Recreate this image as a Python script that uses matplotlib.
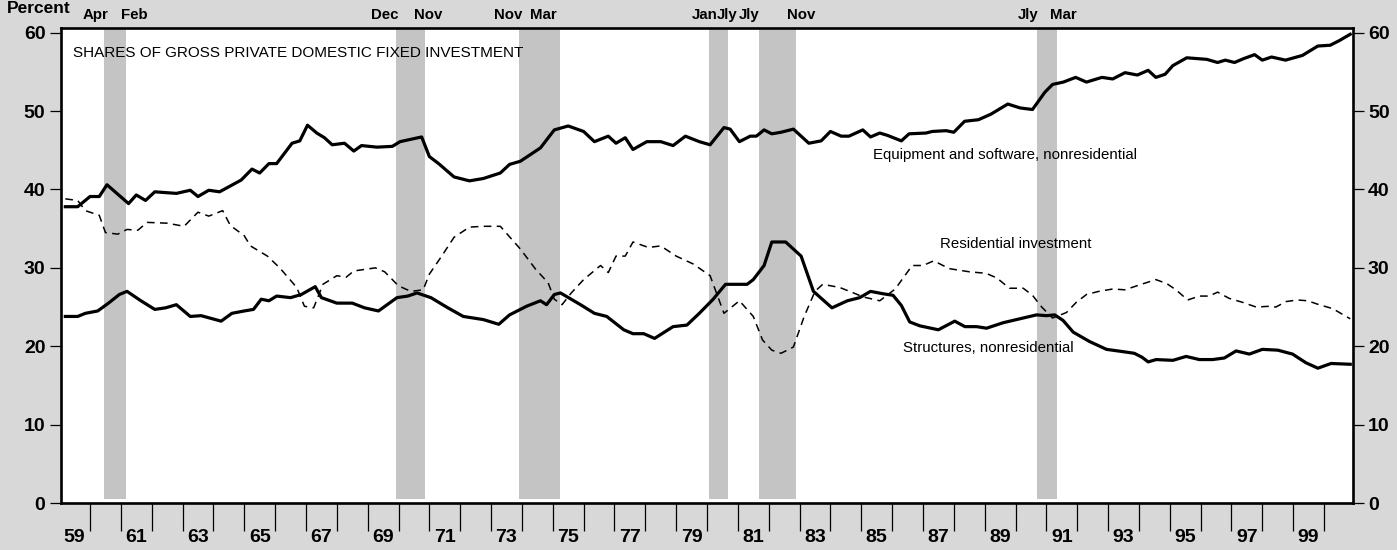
import matplotlib
matplotlib.use("Agg")
import matplotlib.pyplot as plt
import matplotlib.transforms as mtransforms
from matplotlib import font_manager

# pick a narrow face if the box has one (original looks like Helvetica Narrow)
installed = {f.name for f in font_manager.fontManager.ttflist}
narrow = "Liberation Sans Narrow" in installed
body_family = ["Liberation Sans Narrow", "Liberation Sans", "DejaVu Sans"] if narrow else ["Liberation Sans", "DejaVu Sans"]
body_size = 13 if narrow else 10.8
plt.rcParams["font.family"] = ["Liberation Sans", "DejaVu Sans"]

# Equipment and software, nonresidential (percent of fixed investment)
eq_years = [1959.2, 1959.6, 1960.0, 1960.3, 1960.55, 1961.25, 1961.5, 1961.8, 1962.1, 1962.8,
            1963.25, 1963.5, 1963.85, 1964.2, 1964.9, 1965.25, 1965.5, 1965.8, 1966.05, 1966.55,
            1966.8, 1967.05, 1967.35, 1967.6, 1967.85, 1968.25, 1968.55, 1968.8, 1969.3, 1969.8,
            1970.05, 1970.75, 1971.0, 1971.3, 1971.8, 1972.3, 1972.75, 1973.3, 1973.6, 1973.95,
            1974.6, 1975.05, 1975.5, 1976.0, 1976.35, 1976.8, 1977.05, 1977.35, 1977.6, 1978.05,
            1978.5, 1978.9, 1979.3, 1979.75, 1980.1, 1980.55, 1980.75, 1981.05, 1981.4, 1981.6,
            1981.85, 1982.1, 1982.4, 1982.8, 1983.3, 1983.7, 1984.0, 1984.35, 1984.6, 1985.05,
            1985.3, 1985.6, 1985.85, 1986.3, 1986.55, 1987.1, 1987.3, 1987.75, 1988.0, 1988.35,
            1988.8, 1989.2, 1989.75, 1990.15, 1990.55, 1990.95, 1991.2, 1991.55, 1991.95, 1992.3,
            1992.8, 1993.15, 1993.55, 1993.95, 1994.3, 1994.55, 1994.85, 1995.1, 1995.55, 1996.2,
            1996.55, 1996.8, 1997.1, 1997.4, 1997.75, 1998.0, 1998.3, 1998.75, 1999.3, 1999.8,
            2000.2, 2000.5, 2000.85]
eq_share = [37.8, 37.8, 39.1, 39.1, 40.6, 38.2, 39.3, 38.6, 39.7, 39.5,
            39.9, 39.1, 39.9, 39.7, 41.2, 42.6, 42.1, 43.3, 43.3, 45.9,
            46.2, 48.2, 47.2, 46.6, 45.7, 45.9, 44.9, 45.6, 45.4, 45.5,
            46.1, 46.7, 44.2, 43.3, 41.6, 41.1, 41.4, 42.1, 43.2, 43.6,
            45.3, 47.6, 48.1, 47.4, 46.1, 46.8, 45.9, 46.6, 45.1, 46.1,
            46.1, 45.6, 46.8, 46.1, 45.7, 47.9, 47.7, 46.1, 46.8, 46.8,
            47.6, 47.1, 47.3, 47.7, 45.9, 46.2, 47.4, 46.8, 46.8, 47.6,
            46.7, 47.2, 46.9, 46.2, 47.1, 47.2, 47.4, 47.5, 47.3, 48.7,
            48.9, 49.6, 50.9, 50.4, 50.2, 52.4, 53.4, 53.7, 54.3, 53.7,
            54.3, 54.1, 54.9, 54.6, 55.2, 54.3, 54.7, 55.8, 56.8, 56.6,
            56.2, 56.5, 56.2, 56.7, 57.2, 56.5, 56.9, 56.5, 57.1, 58.3,
            58.4, 59.0, 59.8]

# Residential investment
res_years = [1959.2, 1959.6, 1959.85, 1960.3, 1960.5, 1960.9, 1961.2, 1961.55, 1961.85, 1962.5,
             1963.05, 1963.5, 1963.85, 1964.3, 1964.55, 1965.0, 1965.2, 1965.75, 1966.15, 1966.7,
             1966.95, 1967.25, 1967.55, 1968.0, 1968.3, 1968.55, 1969.25, 1969.55, 1970.0, 1970.4,
             1970.8, 1971.0, 1971.4, 1971.8, 1972.3, 1972.75, 1973.3, 1973.95, 1974.45, 1974.85,
             1975.05, 1975.3, 1975.6, 1976.0, 1976.55, 1976.8, 1977.05, 1977.35, 1977.6, 1978.1,
             1978.5, 1979.0, 1979.55, 1980.1, 1980.55, 1981.05, 1981.5, 1981.8, 1982.1, 1982.4,
             1982.8, 1983.15, 1983.5, 1983.75, 1984.3, 1984.75, 1985.05, 1985.6, 1986.1, 1986.65,
             1987.0, 1987.35, 1987.85, 1988.5, 1989.05, 1989.4, 1989.8, 1990.25, 1990.55, 1990.85,
             1991.2, 1991.65, 1991.97, 1992.3, 1992.7, 1993.15, 1993.55, 1994.0, 1994.55, 1994.9,
             1995.2, 1995.58, 1995.96, 1996.28, 1996.55, 1996.93, 1997.36, 1997.8, 1998.23, 1998.44,
             1998.77, 1999.14, 1999.47, 1999.84, 2000.28, 2000.85]
res_share = [38.8, 38.6, 37.3, 36.7, 34.5, 34.3, 34.9, 34.8, 35.8, 35.7,
             35.3, 37.1, 36.6, 37.3, 35.4, 34.1, 32.8, 31.5, 30.0, 27.5,
             25.1, 24.9, 27.9, 29.0, 28.8, 29.6, 30.0, 29.5, 27.7, 27.0,
             27.2, 29.2, 31.5, 33.9, 35.2, 35.3, 35.3, 32.4, 29.8, 28.1,
             26.0, 25.3, 26.8, 28.5, 30.3, 29.4, 31.5, 31.5, 33.3, 32.6,
             32.8, 31.5, 30.5, 29.0, 24.2, 25.8, 23.8, 20.8, 19.5, 19.1,
             19.9, 23.8, 27.0, 27.9, 27.5, 26.8, 26.3, 25.8, 27.3, 30.3,
             30.3, 30.9, 29.9, 29.5, 29.3, 28.7, 27.4, 27.4, 26.5, 25.0,
             23.6, 24.3, 25.6, 26.6, 27.0, 27.3, 27.2, 27.8, 28.5, 28.0,
             27.2, 25.9, 26.4, 26.4, 26.9, 26.1, 25.6, 25.0, 25.1, 25.0,
             25.7, 25.9, 25.8, 25.3, 24.8, 23.5]

# Structures, nonresidential
st_years = [1959.2, 1959.6, 1959.85, 1960.25, 1960.6, 1960.95, 1961.2, 1961.65, 1962.1, 1962.45,
            1962.8, 1963.25, 1963.6, 1964.25, 1964.6, 1965.0, 1965.3, 1965.55, 1965.8, 1966.05,
            1966.5, 1966.85, 1967.3, 1967.5, 1968.0, 1968.5, 1968.9, 1969.35, 1969.95, 1970.3,
            1970.6, 1971.05, 1971.6, 1972.1, 1972.75, 1973.25, 1973.6, 1974.15, 1974.6, 1974.8,
            1975.05, 1975.25, 1975.9, 1976.35, 1976.75, 1977.3, 1977.6, 1977.95, 1978.3, 1978.9,
            1979.35, 1979.75, 1980.2, 1980.6, 1981.3, 1981.5, 1981.85, 1982.1, 1982.55, 1983.05,
            1983.45, 1984.05, 1984.55, 1984.95, 1985.3, 1985.7, 1986.03, 1986.3, 1986.57, 1986.9,
            1987.5, 1988.03, 1988.36, 1988.74, 1989.06, 1989.6, 1990.14, 1990.68, 1991.0, 1991.27,
            1991.54, 1991.87, 1992.4, 1992.95, 1993.5, 1993.85, 1994.1, 1994.3, 1994.56, 1995.1,
            1995.53, 1995.96, 1996.39, 1996.77, 1997.15, 1997.58, 1998.0, 1998.5, 1998.98, 1999.41,
            1999.8, 2000.23, 2000.85]
st_share = [23.8, 23.8, 24.2, 24.5, 25.5, 26.6, 27.0, 25.8, 24.7, 24.9,
            25.3, 23.8, 23.9, 23.2, 24.2, 24.5, 24.7, 26.0, 25.8, 26.4,
            26.2, 26.6, 27.6, 26.2, 25.5, 25.5, 24.9, 24.5, 26.2, 26.4,
            26.8, 26.2, 24.9, 23.8, 23.4, 22.8, 24.0, 25.1, 25.8, 25.3,
            26.6, 26.8, 25.3, 24.2, 23.8, 22.1, 21.6, 21.6, 21.0, 22.5,
            22.7, 24.2, 26.0, 27.9, 27.9, 28.5, 30.3, 33.3, 33.3, 31.5,
            27.0, 24.9, 25.8, 26.2, 27.0, 26.7, 26.5, 25.2, 23.1, 22.6,
            22.1, 23.2, 22.5, 22.5, 22.3, 23.0, 23.5, 24.0, 23.9, 24.0,
            23.3, 21.8, 20.6, 19.6, 19.3, 19.1, 18.6, 18.0, 18.3, 18.2,
            18.7, 18.3, 18.3, 18.5, 19.4, 19.0, 19.6, 19.5, 19.0, 17.9,
            17.2, 17.8, 17.7]

# recessions as drawn (start, end) and the month names printed above the frame
rec_start = [1960.45, 1969.93, 1973.9, 1980.08, 1981.7, 1990.7]
rec_end = [1961.18, 1970.85, 1975.22, 1980.67, 1982.9, 1991.33]
month_labels = ["Apr", "Feb", "Dec", "Nov", "Nov", "Mar", "Jan", "Jly", "Jly", "Nov", "Jly", "Mar"]
month_x = [1960.17, 1961.42, 1969.55, 1970.95, 1973.55, 1974.71, 1979.94, 1980.66, 1981.37, 1983.06, 1990.4, 1991.55]

year_labels = ["%02d" % (y % 100) for y in range(1959, 2000, 2)]

fig = plt.figure(figsize=(13.97, 5.5), dpi=100, facecolor="#d8d8d8")
ax = fig.add_axes([0.04345, 0.08545, 0.92484, 0.86364])
ax.set_facecolor("white")

for s, e in zip(rec_start, rec_end):
    ax.axvspan(s, e, ymin=0.008, ymax=1, color="#c4c4c4", lw=0, zorder=1)

ax.plot(eq_years, eq_share, color="black", lw=2.3, zorder=3)
ax.plot(st_years, st_share, color="black", lw=2.3, zorder=3)
ax.plot(res_years, res_share, color="black", lw=1.1, dashes=(5, 3.5), zorder=3)

ax.set_xlim(1959.05, 2000.93)
ax.set_ylim(0, 60.6)

for sp in ax.spines.values():
    sp.set_linewidth(1.9)

# year boundaries get long ticks, odd-year labels sit between them
ax.set_xticks(range(1960, 2001))
ax.set_xticklabels([])
ax.set_xticks([y + 0.5 for y in range(1959, 2000, 2)], minor=True)
ax.set_xticklabels(year_labels, minor=True, fontsize=14, fontweight="bold")
ax.tick_params(axis="x", which="major", direction="out", length=20, width=0.9)
ax.tick_params(axis="x", which="minor", length=0, pad=19)

ax.set_yticks(range(0, 61, 10))
ax.set_yticklabels([str(v) for v in range(0, 61, 10)], fontsize=14, fontweight="bold")
ax.tick_params(axis="y", direction="out", length=8, width=0.9, pad=3,
               left=True, right=True, labelleft=True, labelright=True)
for lab in ax.get_yticklabels():
    lab.set_fontweight("bold")

fig.text(0.005, 0.985, "Percent", fontsize=12.5, fontweight="bold", va="center", ha="left")

trans = mtransforms.blended_transform_factory(ax.transData, fig.transFigure)
for lab, xpos in zip(month_labels, month_x):
    ax.text(xpos, 0.972, lab, transform=trans, ha="center", va="center",
            fontsize=body_size, fontweight="bold", family=body_family)

ax.text(1959.45, 57.4, "SHARES OF GROSS PRIVATE DOMESTIC FIXED INVESTMENT",
        fontsize=body_size + 0.2, family=body_family, va="center", ha="left", zorder=4)
ax.text(1985.37, 44.4, "Equipment and software, nonresidential",
        fontsize=body_size, family=body_family, va="center", ha="left", zorder=4)
ax.text(1987.54, 33.0, "Residential investment",
        fontsize=body_size, family=body_family, va="center", ha="left", zorder=4)
ax.text(1986.34, 19.8, "Structures, nonresidential",
        fontsize=body_size, family=body_family, va="center", ha="left", zorder=4)

fig.savefig("out.png", dpi=100, facecolor=fig.get_facecolor())
